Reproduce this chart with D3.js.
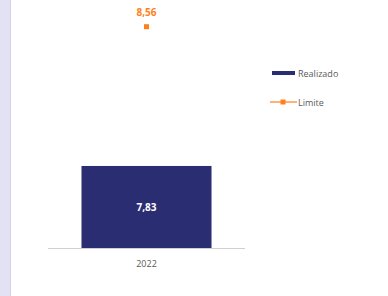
<!DOCTYPE html>
<html>
<head>
<meta charset="utf-8">
<script src="https://cdn.jsdelivr.net/npm/d3@7"></script>
<style>
  body { margin: 0; background: #fff; }
  text { font-family: "Open Sans", "Liberation Sans", sans-serif; }
</style>
</head>
<body>
<div id="chart"></div>
<script>
// data
let years = ["2022"];
let realizado = [7.83];
let limite = [8.56];
let seriesNames = ["Realizado", "Limite"];

let width = 388, height = 296;
let barColor = "#2b2d72", lineColor = "#ff7f1a", textColor = "#595959";

let svg = d3.select("#chart").append("svg")
    .attr("width", width)
    .attr("height", height);

// lavender strip on the left edge
svg.append("rect").attr("x", 0).attr("y", 0).attr("width", 10).attr("height", height).attr("fill", "#e3e1f4");
svg.append("rect").attr("x", 10).attr("y", 0).attr("width", 1).attr("height", height).attr("fill", "#d2cfe8");

let x = d3.scaleBand()
    .domain(years)
    .range([48, 245])
    .paddingInner(0.34)
    .paddingOuter(0.17);

let y = d3.scaleLinear()
    .domain([7.4, 8.7])
    .range([248, 0]);

// bars
svg.selectAll(".bar")
    .data(years)
    .enter()
    .append("rect")
    .attr("class", "bar")
    .attr("x", d => x(d))
    .attr("width", x.bandwidth())
    .attr("y", (d, i) => y(realizado[i]))
    .attr("height", (d, i) => y(7.4) - y(realizado[i]))
    .attr("fill", barColor);

svg.selectAll(".barLabel")
    .data(years)
    .enter()
    .append("text")
    .attr("x", d => x(d) + x.bandwidth() / 2)
    .attr("y", (d, i) => (y(realizado[i]) + y(7.4)) / 2 + 4)
    .attr("text-anchor", "middle")
    .attr("font-size", 10)
    .attr("font-weight", "bold")
    .attr("fill", "#fff")
    .text((d, i) => d3.format(".2f")(realizado[i]).replace(".", ","));

// x axis
svg.append("line")
    .attr("x1", 48).attr("x2", 245)
    .attr("y1", 248.5).attr("y2", 248.5)
    .attr("stroke", "#d0d0d0")
    .attr("stroke-width", 1.2);

svg.selectAll(".xLabel")
    .data(years)
    .enter()
    .append("text")
    .attr("x", d => x(d) + x.bandwidth() / 2)
    .attr("y", 267)
    .attr("text-anchor", "middle")
    .attr("font-size", 9)
    .attr("fill", textColor)
    .text(d => d);

// limite markers
svg.selectAll(".lim")
    .data(years)
    .enter()
    .append("rect")
    .attr("x", d => x(d) + x.bandwidth() / 2 - 2.5)
    .attr("y", (d, i) => y(limite[i]) - 2.5)
    .attr("width", 5).attr("height", 5)
    .attr("fill", lineColor);

svg.selectAll(".limLabel")
    .data(years)
    .enter()
    .append("text")
    .attr("x", d => x(d) + x.bandwidth() / 2)
    .attr("y", (d, i) => y(limite[i]) - 11)
    .attr("text-anchor", "middle")
    .attr("font-size", 10)
    .attr("font-weight", "bold")
    .attr("fill", lineColor)
    .text((d, i) => d3.format(".2f")(limite[i]).replace(".", ","));

// legend
let lg = svg.append("g").attr("transform", "translate(272,73)");
lg.append("rect").attr("x", 0).attr("y", -2).attr("width", 23).attr("height", 4).attr("fill", barColor);
lg.append("text").attr("x", 26).attr("y", 3.5).attr("font-size", 9).attr("fill", textColor).text(seriesNames[0]);

let lg2 = svg.append("g").attr("transform", "translate(270,102)");
lg2.append("line").attr("x1", 0).attr("x2", 27).attr("y1", 0).attr("y2", 0).attr("stroke", lineColor).attr("stroke-width", 1.2);
lg2.append("rect").attr("x", 10.5).attr("y", -2.5).attr("width", 5).attr("height", 5).attr("fill", lineColor);
lg2.append("text").attr("x", 28).attr("y", 3.5).attr("font-size", 9).attr("fill", textColor).text(seriesNames[1]);
</script>
</body>
</html>
